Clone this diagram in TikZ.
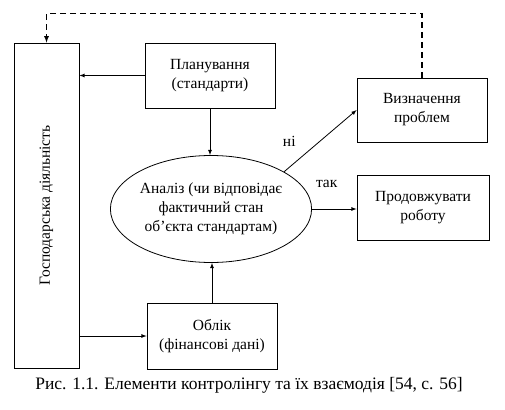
\documentclass[tikz,border=0pt]{standalone}
\usepackage{fontspec}
\setmainfont{Liberation Serif}
\usetikzlibrary{shapes.geometric}
\begin{document}
\begin{tikzpicture}[x=1pt,y=-1pt]
\tikzset{block/.style = {shape=rectangle,draw,line width=0.8pt,align=center,
  font=\fontsize{15.5}{19}\selectfont}}
\tikzset{link/.style = {-latex,line width=0.8pt}}
\useasboundingbox (0,0) rectangle (505,409);
%\draw (0,0) rectangle (505,409);
\node[block,minimum width=65pt,minimum height=325pt] (gosp) at (46.5,205.5) {};
\node[rotate=90,font=\fontsize{15.5}{19}\selectfont] (gosptext) at (gosp.center) {Господарська діяльність};
\node[block,minimum width=130pt,minimum height=65pt] (plan) at (210,75.5) {Планування\\(стандарти)};
\node[block,shape=ellipse,inner sep=0pt,minimum width=197pt,minimum height=107pt] (anal) at (211,209)
  {Аналіз (чи відповідає\\фактичний стан\\об’єкта стандартам)};
\node[block,minimum width=130pt,minimum height=66pt] (oblik) at (212,336) {Облік\\(фінансові дані)};
\node[block,minimum width=130pt,minimum height=64pt] (vyzn) at (422,110) {Визначення\\проблем};
\node[block,minimum width=132pt,minimum height=65pt] (prod) at (423,207.5) {Продовжувати\\роботу};
\node[font=\fontsize{17.5}{21}\selectfont] (caption) at (249,385)
  {Рис. 1.1. Елементи контролінгу та їх взаємодія [54, с. 56]};
\draw[link] (plan.west) to (plan.west -| gosp.east);
\draw[link] (plan.south) to (plan.south |- anal.north);
\draw[link] (oblik.north) to (oblik.north |- anal.south);
\draw[link] (oblik.west -| gosp.east) to (oblik.west);
\draw[link,line width=1.2pt,dash pattern=on 6pt off 4pt] (vyzn.north) -- ++(0,-64) -| (gosp.north);
\path[link,font=\fontsize{15.5}{19}\selectfont]
(anal.27) edge node[pos=0.5,left=21pt] {ні} (vyzn.west)
(anal.east) edge node[pos=0.33,above=18pt] {так} (anal.east -| prod.west);
\end{tikzpicture}
\end{document}
